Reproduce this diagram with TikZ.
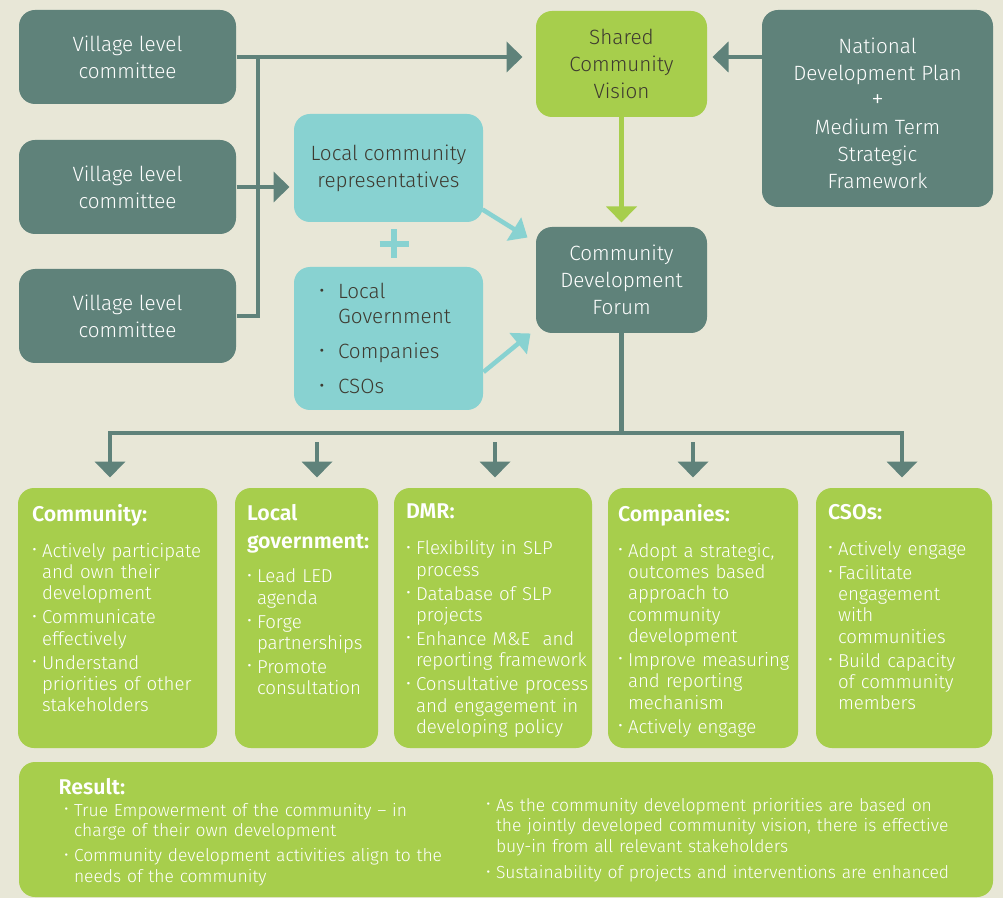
\documentclass[tikz,border=0pt]{standalone}
\usepackage{fontspec}
\setmainfont{Fira Sans Light}[BoldFont={Fira Sans SemiBold}]
\usetikzlibrary{arrows.meta,calc}

\definecolor{pagebg}{RGB}{232,231,215}
\definecolor{boxteal}{RGB}{95,130,122}
\definecolor{boxgreen}{RGB}{167,206,76}
\definecolor{boxcyan}{RGB}{136,210,209}
\definecolor{darktext}{RGB}{62,58,48}

\newcommand{\itb}{\makebox[7.5pt][l]{\raisebox{0.08em}{\scalebox{0.9}{\textbullet}}}}
\newcommand{\itc}{\hspace*{7.5pt}}
\newcommand{\lsb}{\makebox[14.25pt][l]{\raisebox{0.05em}{\scalebox{0.95}{\textbullet}}}}

\tikzset{every picture/.style={line width=0.75pt},
  tealbox/.style={fill=boxteal, rounded corners=12pt, text=white, align=center, inner sep=0pt, font=\fontsize{15.5}{20.25}\selectfont},
  cyanbox/.style={fill=boxcyan, rounded corners=12pt, text=darktext, align=center, inner sep=0pt, font=\fontsize{15.5}{20.25}\selectfont},
  greenbox/.style={fill=boxgreen, rounded corners=12pt, text=darktext, align=center, inner sep=0pt, font=\fontsize{15.5}{20.25}\selectfont},
  roletext/.style={text=white, anchor=north west, inner sep=0pt, text width=200pt, align=left, font=\fontsize{14}{16}\selectfont},
  resulttext/.style={roletext, text width=400pt, font=\fontsize{13.1}{15.5}\selectfont},
  tealline/.style={draw=boxteal, line width=3.4pt},
  tealarrow/.style={tealline, -{Triangle[length=12pt,width=22.5pt]}},
  cyanarrow/.style={draw=boxcyan, line width=3.4pt, -{Triangle[length=12pt,width=20pt]}},
  greenarrow/.style={draw=boxgreen, line width=3.8pt, -{Triangle[length=12pt,width=22.5pt]}},
}

\begin{document}
\begin{tikzpicture}[x=0.75pt,y=0.75pt,yscale=-1,xscale=1]
    %set diagram size 1003 x 898
    \fill[pagebg] (0,0) rectangle (1003,898);
    \useasboundingbox (0,0) rectangle (1003,898);

    %Shape: Rounded Rectangle [village committees]
    \node[tealbox, minimum width=162.75pt, minimum height=70.5pt] (vlc1) at (127.5,57) {Village level\\committee};
    \node[tealbox, minimum width=162.75pt, minimum height=70.5pt] (vlc2) at (127.5,187) {Village level\\committee};
    \node[tealbox, minimum width=162.75pt, minimum height=70.5pt] (vlc3) at (127.5,316) {Village level\\committee};

    %Shape: Rounded Rectangle [representatives]
    \node[cyanbox, minimum width=141.75pt, minimum height=81pt] (lcr) at (388.5,168) {Local community\\representatives};
    \node[cyanbox, minimum width=141.75pt, minimum height=107.25pt] (stake) at (388.5,338.5) {};

    %Shape: Rounded Rectangle [vision, plan, forum]
    \node[greenbox, minimum width=128.25pt, minimum height=79.5pt] (vision) at (621.5,64) {Shared\\Community\\Vision};
    \node[tealbox, minimum width=173.25pt, minimum height=147.75pt] (ndp) at (877.5,108.5) {\rule{0pt}{19pt}National\\Development Plan\\{\fontsize{19}{20.25}\selectfont +}\\Medium Term\\Strategic\\Framework};
    \node[tealbox, minimum width=128.25pt, minimum height=79.5pt] (cdf) at (621.5,280) {Community\\Development\\Forum};

    %Shape: Rounded Rectangle [roles]
    \node[greenbox, minimum width=149.25pt, minimum height=195pt] (comm) at (117.5,618) {};
    \node[greenbox, minimum width=107.25pt, minimum height=195pt] (lgov) at (306.5,618) {};
    \node[greenbox, minimum width=148.5pt, minimum height=195pt] (dmr) at (493,618) {};
    \node[greenbox, minimum width=142.5pt, minimum height=195pt] (comp) at (703,618) {};
    \node[greenbox, minimum width=132pt, minimum height=195pt] (cso) at (904,618) {};
    \node[greenbox, minimum width=730.5pt, minimum height=101.25pt] (result) at (506,829.5) {};

    %Plus sign
    \coordinate (plus) at (394,244);
    \draw[draw=boxcyan, line width=4.2pt] ($(plus)+(0,-14.5)$) -- ($(plus)+(0,14.5)$) ($(plus)+(-14.5,0)$) -- ($(plus)+(14.5,0)$);

    %Straight Lines [top connectors]
    \coordinate (trunk) at (258,0);
    \draw[tealline] (vlc3.east) -| (trunk |- vlc1.east);
    \draw[tealarrow, shorten >=9.75pt] (vlc1.east) -- (vlc1.east -| vision.west);
    \draw[tealarrow, shorten >=3pt] (vlc2.east) -- (vlc2.east -| lcr.west);
    \draw[tealarrow, shorten >=3.75pt] (vlc1.east -| ndp.west) -- (vlc1.east -| vision.east);
    \draw[greenarrow, shorten >=3pt] (vision.south) -- (cdf.north);
    \draw[cyanarrow] ($(lcr.south east)+(-1,-13)$) -- ($(cdf.north west)+(-8,11)$);
    \draw[cyanarrow] ($(stake.east)+(0,33.5)$) -- ($(cdf.south west)+(-5,0)$);

    %Straight Lines [distribution bar]
    \coordinate (barL) at (110,433);
    \coordinate (barR) at (902,433);
    \coordinate (stub2) at (317,442);
    \coordinate (stub3) at (495,442);
    \coordinate (stub4) at (693,442);
    \draw[tealline] (cdf.south) -- (cdf.south |- barL);
    \draw[tealarrow, shorten >=7.5pt] (cdf.south |- barL) -| (barL |- comm.north);
    \draw[tealarrow, shorten >=7.5pt] (cdf.south |- barR) -| (barR |- cso.north);
    \draw[tealarrow, shorten >=7.5pt] (stub2) -- (stub2 |- lgov.north);
    \draw[tealarrow, shorten >=7.5pt] (stub3) -- (stub3 |- dmr.north);
    \draw[tealarrow, shorten >=7.5pt] (stub4) -- (stub4 |- comp.north);

    % Text Node
    \node[roletext, text=darktext, font=\fontsize{15.5}{18.75}\selectfont] (staketxt) at ($(stake.north west)+(25,16)$) {\lsb Local\\ \hspace*{14.25pt}Government\par\vspace{7.5pt}
      \lsb Companies\par\vspace{7.5pt}
      \lsb CSOs};
    % Text Node
    \node[roletext] (commtxt) at ($(comm.north west)+(14,16)$) {{\bfseries\fontsize{16}{21}\selectfont Community:\par}\vspace{11pt}
      \itb Actively participate\\ \itc and own their\\ \itc development\par\vspace{2pt}
      \itb Communicate\\ \itc effectively\par\vspace{2pt}
      \itb Understand\\ \itc priorities of other\\ \itc stakeholders};
    % Text Node
    \node[roletext] (lgovtxt) at ($(lgov.north west)+(12,16)$) {{\bfseries\fontsize{16}{21}\selectfont Local\\government:\par}\vspace{10pt}
      \itb Lead LED\\ \itc agenda\par\vspace{2pt}
      \itb Forge\\ \itc partnerships\par\vspace{2pt}
      \itb Promote\\ \itc consultation};
    % Text Node
    \node[roletext] (dmrtxt) at ($(dmr.north west)+(12,16)$) {{\bfseries\fontsize{16}{21}\selectfont DMR:\par}\vspace{11pt}
      \itb Flexibility in SLP\\ \itc process\par\vspace{2pt}
      \itb Database of SLP\\ \itc projects\par\vspace{2pt}
      \itb Enhance M\&E\ \ and\\ \itc reporting framework\par\vspace{2pt}
      \itb Consultative process\\ \itc and engagement in\\ \itc developing policy};
    % Text Node
    \node[roletext] (comptxt) at ($(comp.north west)+(10,16)$) {{\bfseries\fontsize{16}{21}\selectfont Companies:\par}\vspace{11pt}
      \itb Adopt a strategic,\\ \itc outcomes based\\ \itc approach to\\ \itc community\\ \itc development\par\vspace{2pt}
      \itb Improve measuring\\ \itc and reporting\\ \itc mechanism\par\vspace{2pt}
      \itb Actively engage};
    % Text Node
    \node[roletext] (csotxt) at ($(cso.north west)+(12,16)$) {{\bfseries\fontsize{16}{21}\selectfont CSOs:\par}\vspace{11pt}
      \itb Actively engage\par\vspace{2pt}
      \itb Facilitate\\ \itc engagement\\ \itc with\\ \itc communities\par\vspace{2pt}
      \itb Build capacity\\ \itc of community\\ \itc members};
    % Text Node
    \node[resulttext] (restxt) at ($(result.north west)+(45,16)$) {\hspace*{-4pt}{\bfseries\fontsize{16}{16}\selectfont Result:\par}\vspace{1pt}
      \itb True Empowerment of the community -- in\\ \itc charge of their own development\par\vspace{3pt}
      \itb Community development activities align to the\\ \itc needs of the community};
    % Text Node
    \node[resulttext] (restxt2) at ($(result.north west)+(467,36)$) {\itb As the community development priorities are based on\\ \itc the jointly developed community vision, there is effective\\ \itc buy-in from all relevant stakeholders\par\vspace{4pt}
      \itb Sustainability of projects and interventions are enhanced};

\end{tikzpicture}
\end{document}
